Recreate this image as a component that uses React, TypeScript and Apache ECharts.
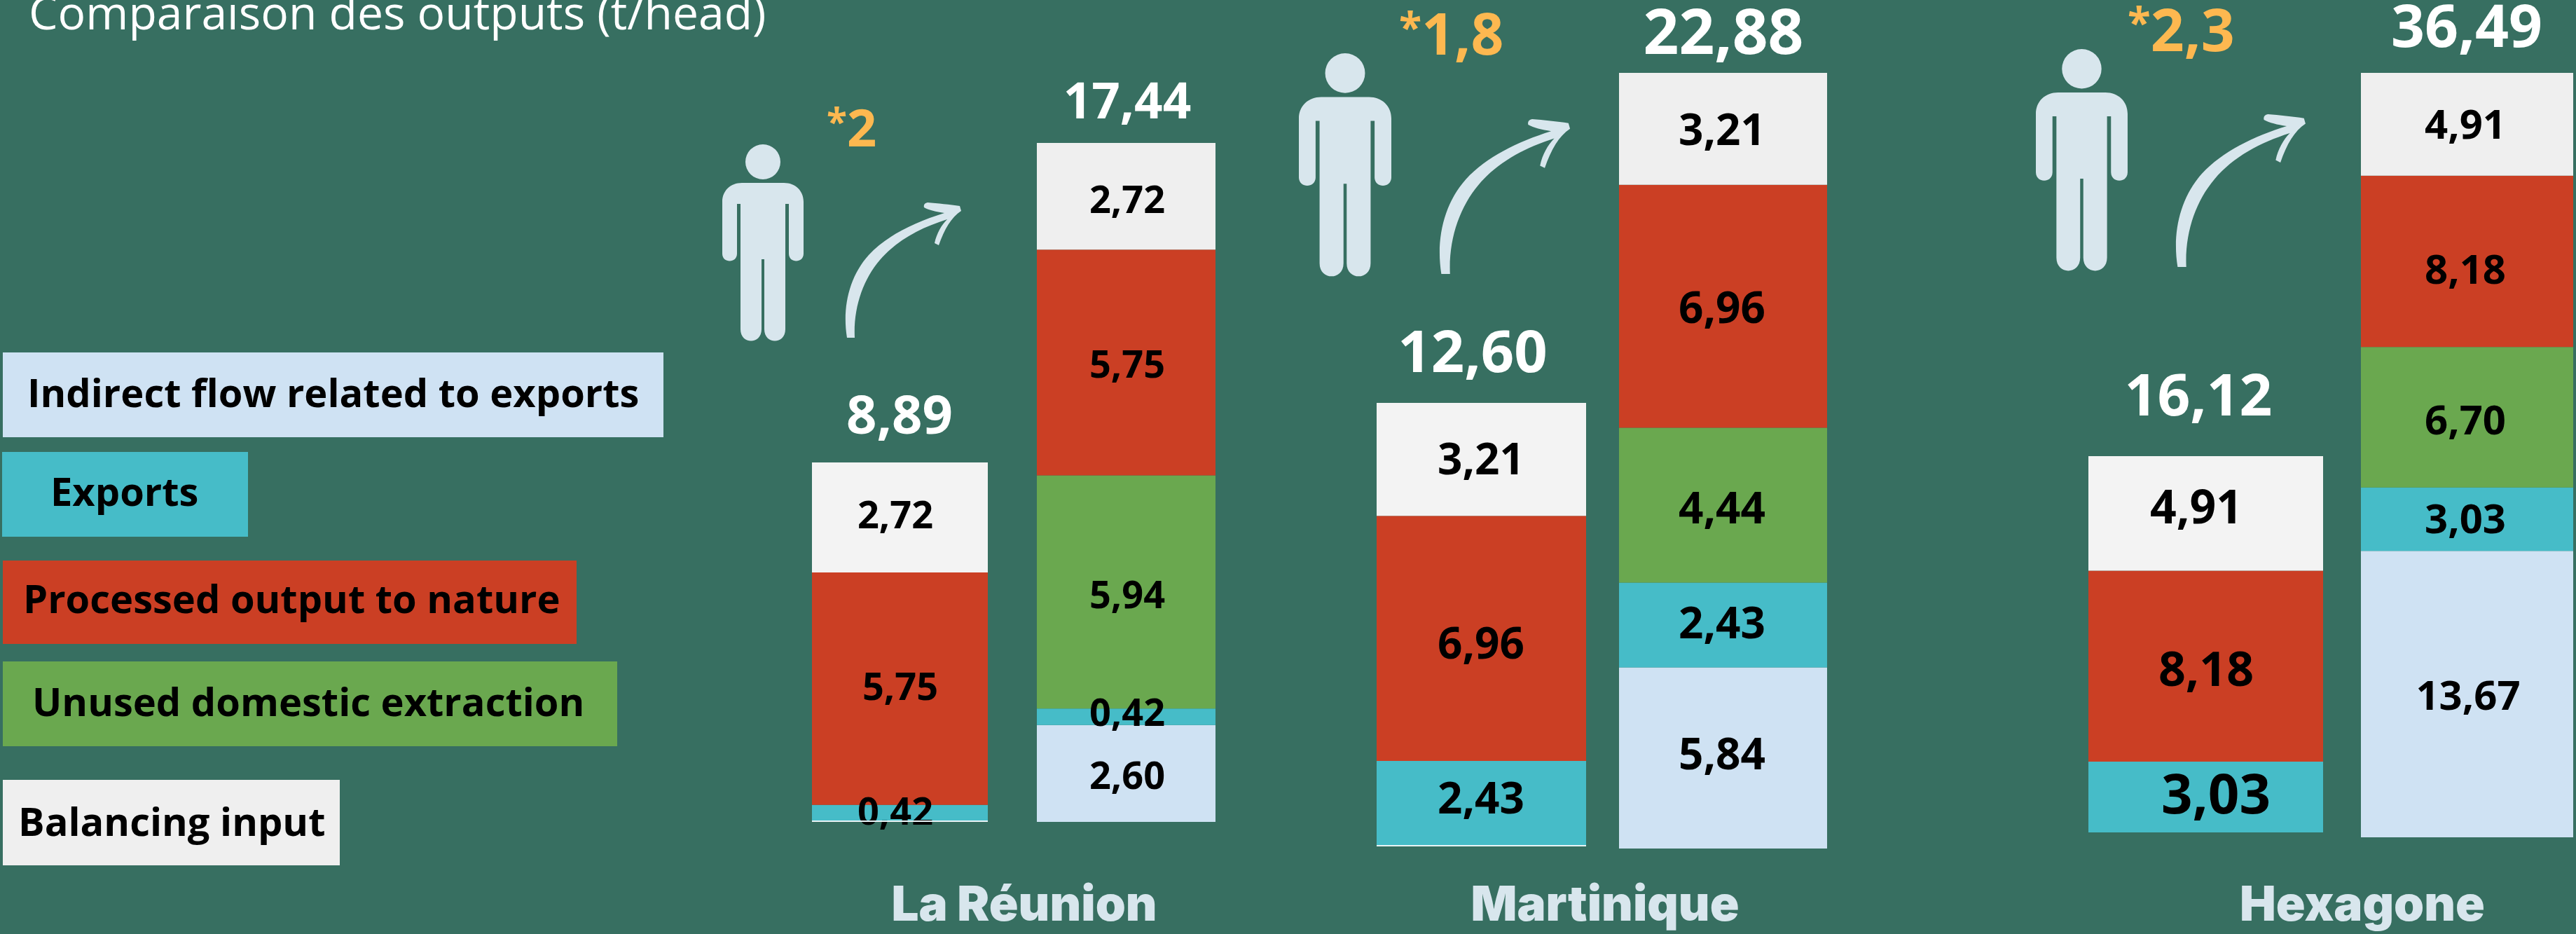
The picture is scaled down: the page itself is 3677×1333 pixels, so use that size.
import React, { useEffect, useRef } from "react";
import * as echarts from "echarts";

const places = ["La Réunion", "Martinique", "Hexagone"];
const multiplierStar = "*";
const multipliers = ["2", "1,8", "2,3"];
const barNames = ["La Réunion 1", "La Réunion 2", "Martinique 1", "Martinique 2", "Hexagone 1", "Hexagone 2"];
const indirectFlow = [null, 2.6, null, 5.84, null, 13.67];
const exportsFlow = [0.42, 0.42, 2.43, 2.43, 3.03, 3.03];
const unusedExtraction = [null, 5.94, null, 4.44, null, 6.7];
const processedOutput = [5.75, 5.75, 6.96, 6.96, 8.18, 8.18];
const balancingInput = [2.72, 2.72, 3.21, 3.21, 4.91, 4.91];
const totals = [8.89, 17.44, 12.6, 22.88, 16.12, 36.49];
const legendNames = [
  "Indirect flow related to exports",
  "Exports",
  "Processed output to nature",
  "Unused domestic extraction",
  "Balancing input",
];

const BG = "#376f61";
const ICON = "#d8e6ed";
const ORANGE = "#fdb850";
const FONT = "'Open Sans', sans-serif";

// Layout (pixels): one plot box per bar, since each bar has its own scale
const barBoxes = [
  { l: 1159, r: 1410, t: 660, b: 1173, white: "#f3f3f3", axisMin: 0 },
  { l: 1480, r: 1735, t: 204, b: 1173, white: "#efefef", axisMin: 0.13 },
  { l: 1965, r: 2264, t: 575, b: 1208, white: "#f3f3f3", axisMin: 0 },
  { l: 2311, r: 2608, t: 104, b: 1211, white: "#efefef", axisMin: 0.65 },
  { l: 2981, r: 3316, t: 651, b: 1188, white: "#f3f3f3", axisMin: 0 },
  { l: 3370, r: 3673, t: 104, b: 1195, white: "#efefef", axisMin: 0 },
];
// bottom-to-top label centres, per bar
const labelSpots: ({ x: number; y: number; s: number } | null)[][] = [
  [null, { x: 1278, y: 1156, s: 54 }, null, { x: 1285, y: 978, s: 54 }, { x: 1278, y: 733, s: 54 }],
  [{ x: 1609, y: 1105, s: 54 }, { x: 1609, y: 1015, s: 54 }, { x: 1609, y: 847, s: 54 }, { x: 1609, y: 518, s: 54 }, { x: 1609, y: 283, s: 54 }],
  [null, { x: 2114, y: 1137, s: 62 }, null, { x: 2114, y: 916, s: 62 }, { x: 2114, y: 653, s: 62 }],
  [{ x: 2458, y: 1074, s: 62 }, { x: 2458, y: 887, s: 62 }, { x: 2458, y: 723, s: 62 }, { x: 2458, y: 437, s: 62 }, { x: 2458, y: 183, s: 62 }],
  [null, { x: 3163, y: 1131, s: 78 }, null, { x: 3149, y: 952, s: 68 }, { x: 3135, y: 721, s: 66 }],
  [{ x: 3523, y: 990, s: 58 }, { x: 3519, y: 738, s: 58 }, { x: 3519, y: 597, s: 58 }, { x: 3519, y: 382, s: 58 }, { x: 3519, y: 175, s: 58 }],
];
const totalSpots = [
  { x: 1284, y: 589, s: 76 },
  { x: 1609, y: 141, s: 71 },
  { x: 2102, y: 498, s: 83 },
  { x: 2460, y: 42, s: 89 },
  { x: 3138, y: 561, s: 82 },
  { x: 3521, y: 34, s: 84 },
];
const legendBoxes = [
  { l: 4, r: 947, t: 503, b: 624, c: "#cfe2f3", tx: 39, ty: 559 },
  { l: 3, r: 354, t: 645, b: 766, c: "#46bcc8", tx: 72, ty: 700 },
  { l: 4, r: 823, t: 800, b: 919, c: "#cb3f24", tx: 33, ty: 853 },
  { l: 4, r: 881, t: 944, b: 1065, c: "#6aa84f", tx: 46, ty: 1000 },
  { l: 4, r: 485, t: 1113, b: 1235, c: "#efefef", tx: 26, ty: 1171 },
];
const placeSpots = [
  { x: 1462, y: 1289 },
  { x: 2291, y: 1289 },
  { x: 3372, y: 1289 },
];
const multSpots = [
  { x: 1180, y: 180, s: 74 },
  { x: 1997, y: 46, s: 82 },
  { x: 3037, y: 40, s: 84 },
];
const personBoxes = [
  { x: 1031, y: 206, w: 116, h: 281 },
  { x: 1854, y: 76, w: 132, h: 319 },
  { x: 2906, y: 70, w: 131, h: 317 },
];
const arrowBoxes = [
  { x: 1206, y: 289, w: 166, h: 193 },
  { x: 2054, y: 170, w: 187, h: 221 },
  { x: 3105, y: 163, w: 186, h: 218 },
];

const PERSON_D =
  "M33 25 A25 25 0 1 1 83 25 A25 25 0 1 1 33 25 Z " +
  "M28 55 H88 C104 55 116 66 116 82 V156 C116 170 95 170 95 156 V85 H90 V264 C90 286 60 286 60 264 V164 H56 V264 C56 286 26 286 26 264 V85 H21 V156 C21 170 0 170 0 156 V82 C0 66 12 55 28 55 Z";
const ARROW_D =
  "M3 193 C-4 150 6 106 34 75 C60 47 100 28 142 15 C130 13 120 11 113 7 C112 3 114 1 118 0 C132 1 150 3 164 5 L166 12 C152 21 142 38 134 61 L128 58 C131 44 138 32 146 24 C108 36 74 54 50 82 C26 110 12 150 14 193 Z";

echarts.graphic.registerShape("personIcon", echarts.graphic.extendPath(PERSON_D, {}) as any);
echarts.graphic.registerShape("curvedArrow", echarts.graphic.extendPath(ARROW_D, {}) as any);

const stackColumns = [indirectFlow, exportsFlow, unusedExtraction, processedOutput, balancingInput];
const stackColors = ["#cfe2f3", "#46bcc8", "#6aa84f", "#cb3f24", null];
const fmt = (v: number) => v.toFixed(2).replace(".", ",");

function text(t: string, x: number, y: number, size: number, fill: string, weight: any, family: string, align = "center", extra: any = {}) {
  return {
    type: "text",
    z: 20,
    style: {
      text: t, x, y, fill, fontSize: size, fontWeight: weight, fontFamily: family,
      textAlign: align, align, verticalAlign: "middle", textVerticalAlign: "middle", ...extra,
    },
  };
}

function buildOption() {
  const grid: any[] = [];
  const xAxis: any[] = [];
  const yAxis: any[] = [];
  const series: any[] = [];
  barNames.forEach((name, i) => {
    const box = barBoxes[i];
    const values = stackColumns.map((c) => c[i]);
    const sum = values.reduce((a: number, v) => a + (v ?? 0), 0);
    const h = box.b - box.t;
    const span = sum - box.axisMin;
    grid.push({ left: box.l, top: box.t, width: box.r - box.l, height: h, containLabel: false });
    xAxis.push({ type: "category", gridIndex: i, data: [name], show: false });
    yAxis.push({ type: "value", gridIndex: i, min: box.axisMin, max: sum, show: false, splitLine: { show: false } });
    let cum = 0;
    values.forEach((v, k) => {
      if (v == null) return;
      const cx = (box.l + box.r) / 2;
      const low = Math.max(cum, box.axisMin);
      const cy = box.b - (((low + cum + v) / 2 - box.axisMin) / span) * h;
      cum += v;
      const spot = labelSpots[i][k]!;
      series.push({
        type: "bar",
        name: legendNames[stackColumns.length - 1 - k],
        xAxisIndex: i,
        yAxisIndex: i,
        stack: name,
        barWidth: "100%",
        data: [v],
        itemStyle: { color: stackColors[k] ?? box.white },
        label: {
          show: true,
          position: "inside",
          offset: [spot.x - cx, spot.y - cy],
          formatter: fmt(v),
          color: "#000",
          fontFamily: FONT,
          fontWeight: "bold",
          fontSize: spot.s,
        },
        z: 3,
      });
    });
  });

  const graphic: any[] = [];
  graphic.push(text("Comparaison des outputs (t/head)", 41, 16, 66, "#fff", "normal", FONT, "left"));
  legendBoxes.forEach((b, i) => {
    graphic.push({ type: "rect", shape: { x: b.l, y: b.t, width: b.r - b.l, height: b.b - b.t }, style: { fill: b.c }, z: 10 });
    graphic.push(text(legendNames[i], b.tx, b.ty, 56, "#000", "bold", FONT, "left"));
  });
  totals.forEach((t, i) => {
    const s = totalSpots[i];
    graphic.push(text(fmt(t), s.x, s.y, s.s, "#fff", "bold", FONT));
  });
  places.forEach((p, i) => {
    const s = placeSpots[i];
    graphic.push(text(p, s.x, s.y, 69, ICON, 900, "Inter, sans-serif"));
  });
  multipliers.forEach((m, i) => {
    const s = multSpots[i];
    const starSize = Math.round(s.s * 0.72);
    graphic.push(
      text(`{a|${multiplierStar}}{b|${m}}`, s.x, s.y, s.s, ORANGE, "bold", FONT, "left", {
        rich: {
          a: { fontSize: starSize, fontWeight: "bold", fontFamily: FONT, fill: ORANGE, color: ORANGE, padding: [0, 0, Math.round(s.s * 0.22), 0] },
          b: { fontSize: s.s, fontWeight: "bold", fontFamily: FONT, fill: ORANGE, color: ORANGE },
        },
      })
    );
  });
  personBoxes.forEach((p) => {
    graphic.push({ type: "personIcon", x: p.x, y: p.y, scaleX: p.w / 116, scaleY: p.h / 281, style: { fill: ICON }, z: 10 });
  });
  arrowBoxes.forEach((p) => {
    graphic.push({ type: "curvedArrow", x: p.x, y: p.y, scaleX: p.w / 166, scaleY: p.h / 193, style: { fill: ICON }, z: 10 });
  });
  // thin pale edge under the first bars of La Réunion and Martinique
  [0, 2].forEach((i) => {
    const b = barBoxes[i];
    graphic.push({ type: "rect", shape: { x: b.l, y: b.b - 2, width: b.r - b.l, height: 2 }, style: { fill: "#e8f4f6" }, z: 9 });
  });

  return { animation: false, backgroundColor: BG, grid, xAxis, yAxis, series, graphic };
}

export default function App() {
  const ref = useRef<HTMLDivElement>(null);
  useEffect(() => {
    document.body.style.margin = "0";
    document.body.style.overflow = "hidden";
    const chart = echarts.init(ref.current!, undefined, { renderer: "svg" });
    chart.setOption(buildOption() as any);
    return () => chart.dispose();
  }, []);
  return <div ref={ref} style={{ width: 3677, height: 1333 }} />;
}
